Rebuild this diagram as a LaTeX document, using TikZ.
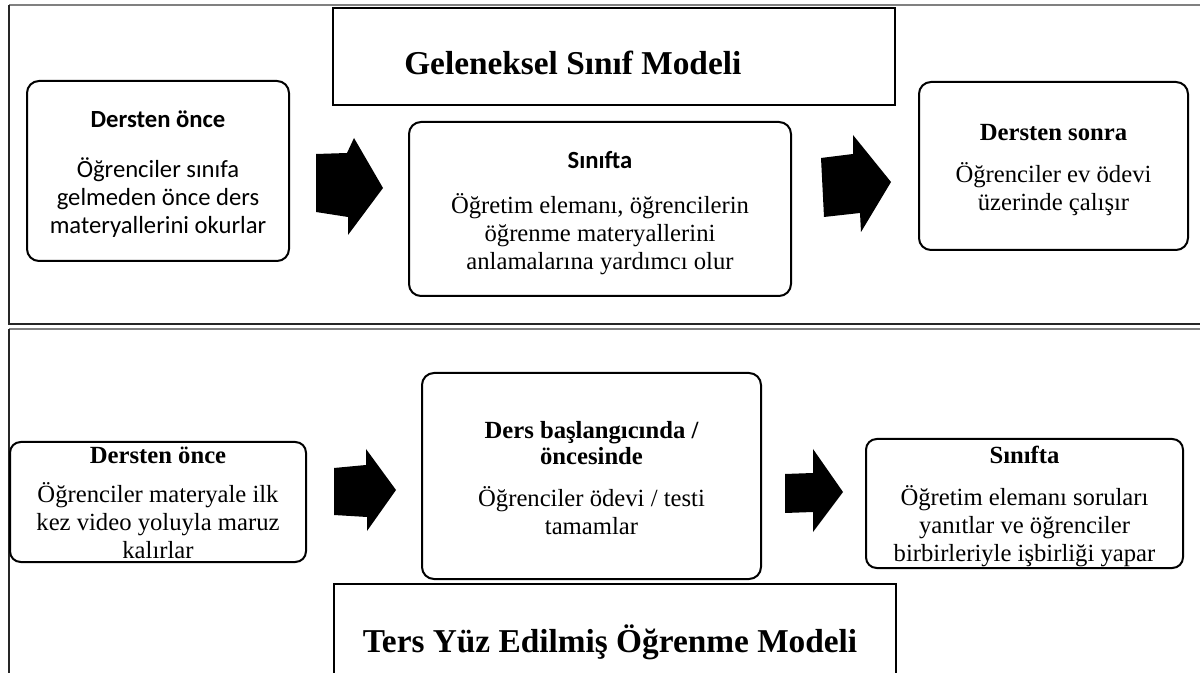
\documentclass[tikz,border=0pt]{standalone}
\usepackage{fontspec}
\setmainfont{Liberation Serif}
\newfontfamily\calibrilike{Carlito}
\begin{document}
\begin{tikzpicture}[x=0.75pt,y=-0.75pt,
  card/.style={draw=black, line width=1.5pt, rounded corners=9pt, inner sep=0pt, fill=white},
  cardtext/.style={align=center, inner sep=0pt, font=\fontsize{18.5}{21}\selectfont},
  titlebox/.style={draw=black, line width=2pt, inner sep=0pt},
  titletext/.style={font=\bfseries\fontsize{25}{28}\selectfont, inner sep=0pt},
  blockarrow/.style={fill=black},
  panelrule/.style={line width=1.5pt, draw=black!50},
  paneledge/.style={line width=1.2pt, draw=black!85}]
\clip (0,0) rectangle (1200,673);
\fill[white] (0,0) rectangle (1200,673);

% frames of the two panels
\draw[panelrule] (9,5) -- (1200,5);
\draw[paneledge] (9,5) -- (9,324) -- (1200,324);
\draw[panelrule] (9,329) -- (1200,329);
\draw[paneledge] (9,329) -- (9,690);

% ---- traditional classroom ----
\node[titlebox, minimum width=421.5pt, minimum height=72.75pt] (t1) at (614,56.5) {};
\node[titletext, anchor=base west] (t1text) at (404,75) {Geleneksel Sınıf Modeli};

\node[card, minimum width=196.5pt, minimum height=135pt] (a1) at (158,171) {};
\node[cardtext, font=\calibrilike\fontsize{18.5}{21}\selectfont] (a1t) at ([yshift=-2.25pt]a1.center)
  {{\bfseries Dersten önce}\\[17pt] Öğrenciler sınıfa\\ gelmeden önce ders\\ materyallerini okurlar};

\node[card, minimum width=286.5pt, minimum height=130.5pt] (a2) at (600,209) {};
\node[cardtext] (a2t) at ([yshift=-3pt]a2.center)
  {{\calibrilike\bfseries Sınıfta}\\[12.75pt] Öğretim elemanı, öğrencilerin\\ öğrenme materyallerini\\ anlamalarına yardımcı olur};

\node[card, minimum width=201.75pt, minimum height=126pt] (a3) at (1053.5,166) {};
\node[cardtext] (a3t) at ([yshift=-3pt]a3.center)
  {{\bfseries Dersten sonra}\\[10pt] Öğrenciler ev ödevi\\ üzerinde çalışır};

\fill[blockarrow] (316,154) -- (347,153) -- (354,138) -- (383,188) -- (348,235) -- (348,217) -- (316,212) -- cycle;
\fill[blockarrow] (821,158) -- (853,154) -- (853,135) -- (891,182) -- (861,232) -- (860,213) -- (824,217) -- cycle;

% ---- flipped learning ----
\node[card, rounded corners=8pt, minimum width=222pt, minimum height=90pt] (b1) at (158,502) {};
\node[cardtext] (b1t) at ([yshift=-0.75pt]b1.center)
  {{\bfseries Dersten önce}\\[8pt] Öğrenciler materyale ilk\\ kez video yoluyla maruz\\ kalırlar};

\node[card, minimum width=254.25pt, minimum height=154.5pt] (b2) at (591.5,476) {};
\node[cardtext] (b2t) at ([yshift=-1.5pt]b2.center)
  {{\bfseries Ders başlangıcında /}\\[-1.5pt] {\bfseries öncesinde}\\[10pt] Öğrenciler ödevi / testi\\ tamamlar};

\node[card, rounded corners=8pt, minimum width=237.75pt, minimum height=96.75pt] (b3) at (1024.5,503.5) {};
\node[cardtext] (b3t) at ([yshift=-2.25pt]b3.center)
  {{\bfseries Sınıfta}\\[11pt] Öğretim elemanı soruları\\ yanıtlar ve öğrenciler\\ birbirleriyle işbirliği yapar};

\fill[blockarrow] (334,468) -- (366,465) -- (366,449) -- (396,490) -- (367,531) -- (367,517) -- (334,515) -- cycle;
\fill[blockarrow] (785,474) -- (813,473) -- (813,449) -- (843,492) -- (813,532) -- (813,512) -- (785,513) -- cycle;

\node[titlebox, minimum width=421.5pt, minimum height=87pt] (t2) at (615,642) {};
\node[titletext, anchor=base] (t2text) at (610,652) {Ters Yüz Edilmiş Öğrenme Modeli};
\end{tikzpicture}
\end{document}
